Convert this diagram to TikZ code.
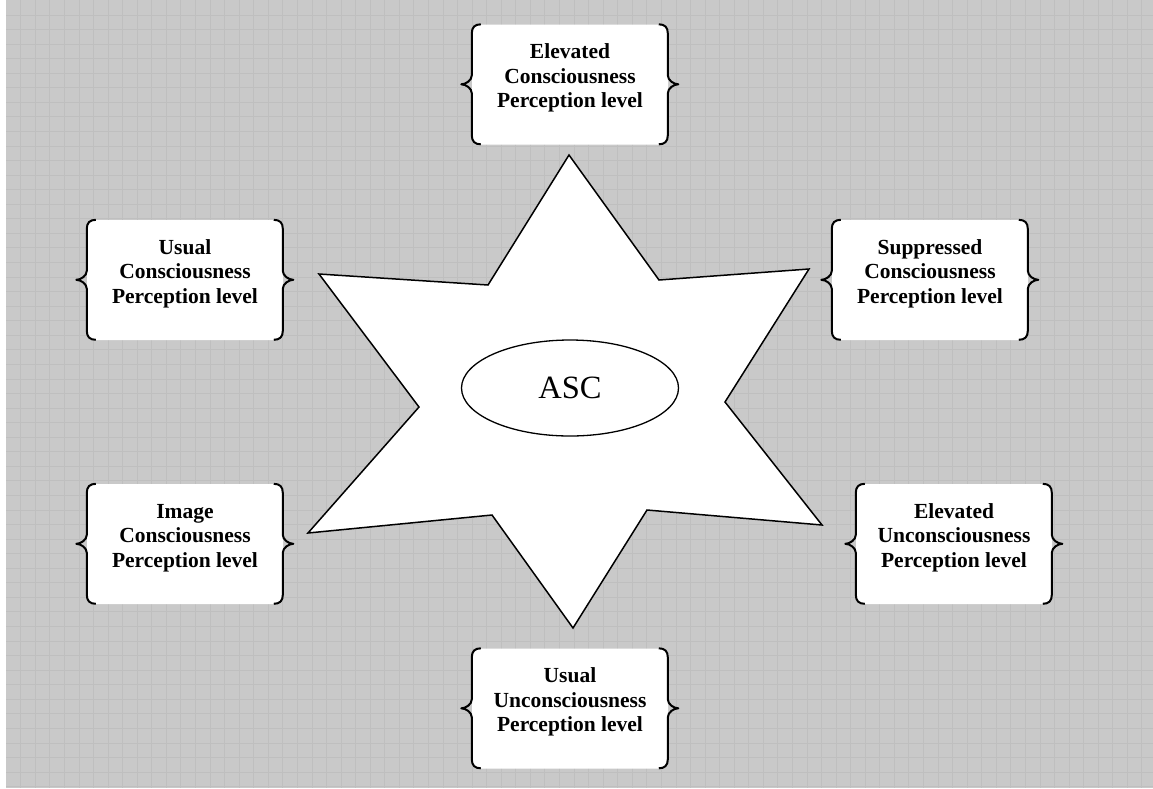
\documentclass[tikz,border=0pt]{standalone}
\usepackage{fontspec}
\setmainfont{Liberation Serif}
\usetikzlibrary{calc,shapes.geometric}

\definecolor{paper}{RGB}{201,201,201}
\definecolor{gridgray}{RGB}{191,191,191}

\tikzset{
  gridline/.style={draw=gridgray, line width=0.9pt},
  levelbox/.style={fill=white, draw=none, rounded corners=9pt,
    minimum width=196pt, minimum height=120pt, inner sep=0pt},
  leveltext/.style={align=center, inner sep=0pt,
    font=\bfseries\fontsize{21.5}{24.5}\selectfont},
  bracestroke/.style={draw=black, line width=2pt, line join=round},
  starshape/.style={fill=white, draw=black, line width=1.5pt, line join=miter},
  core/.style={ellipse, fill=white, draw=black, line width=1.3pt,
    minimum width=217pt, minimum height=96pt, inner sep=0pt,
    font=\fontsize{32.5}{36}\selectfont}
}

% curly braces on both sides of a level box (196 x 120)
\newcommand{\levelbraces}[1]{%
  \begin{scope}[shift={(#1.north west)}]
    \draw[bracestroke] (9,0) .. controls (3,0) and (0,3) .. (0,9) -- (0,51)
      .. controls (0,56) and (-6,60) .. (-10.5,60)
      .. controls (-6,60) and (0,64) .. (0,69) -- (0,111)
      .. controls (0,117) and (3,120) .. (9,120);
    \draw[bracestroke] (187,0) .. controls (193,0) and (196,3) .. (196,9) -- (196,51)
      .. controls (196,56) and (202,60) .. (206.5,60)
      .. controls (202,60) and (196,64) .. (196,69) -- (196,111)
      .. controls (196,117) and (193,120) .. (187,120);
  \end{scope}}

% a level box with its braces and its three-line caption
\newcommand{\levelnode}[3]{%
  \node[levelbox] (#1) at #2 {};
  \levelbraces{#1}
  \node[leveltext] (#1-text) at ($(#1.north)+(0,54)$) {#3};}

\begin{document}
\begin{tikzpicture}[x=1pt, y=-1pt]
  \useasboundingbox (0,0) rectangle (1153,788);
  % page background with its grid
  \fill[white] (0,0) rectangle (1153,788);
  \fill[paper] (6,0) rectangle (1153,788);
  \foreach \i in {1,...,79}
    \draw[gridline] ({6.2+14.56*\i},0) -- ({6.2+14.56*\i},788);
  \foreach \j in {1,...,54}
    \draw[gridline] (6,{0.4+14.56*\j}) -- (1153,{0.4+14.56*\j});

  % six-pointed star
  \draw[starshape] (569,155) -- (659,280) -- (809,269) -- (725,402)
    -- (822,525) -- (647,510) -- (573,628) -- (492,515) -- (308,533)
    -- (419,407) -- (319,274) -- (488,285) -- cycle;

  \node[core] (asc) at (570,388) {ASC};

  % perception levels
  \levelnode{elevcon}{(570,84.5)}{Elevated\\Consciousness\\Perception level}
  \levelnode{usualcon}{(185,280)}{Usual\\Consciousness\\Perception level}
  \levelnode{suppcon}{(930,280)}{Suppressed\\Consciousness\\Perception level}
  \levelnode{imagecon}{(185,544)}{Image\\Consciousness\\Perception level}
  \levelnode{elevuncon}{(954,544)}{Elevated\\Unconsciousness\\Perception level}
  \levelnode{usualuncon}{(570,708.5)}{Usual\\Unconsciousness\\Perception level}
\end{tikzpicture}
\end{document}
